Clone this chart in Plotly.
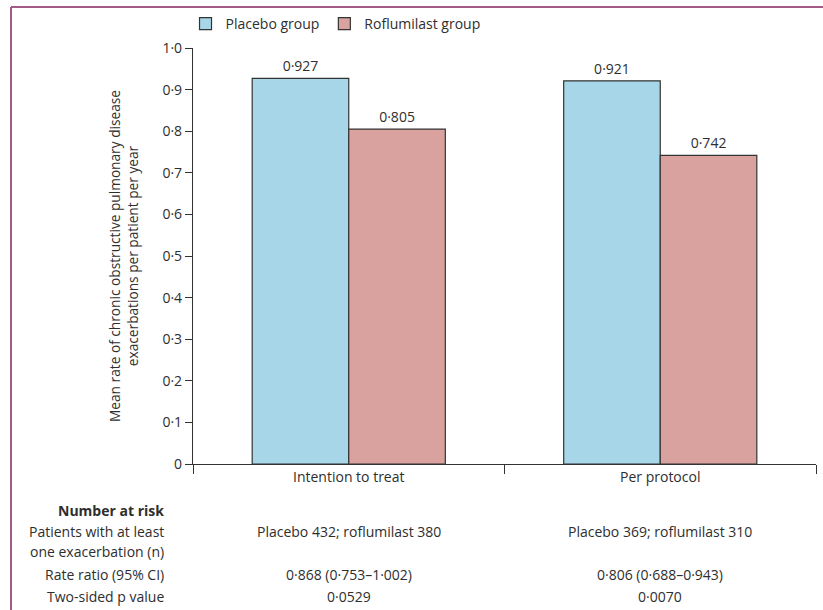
import plotly.graph_objects as go

# data
analyses = ["Intention to treat", "Per protocol"]
placebo_rate = [0.927, 0.921]
roflumilast_rate = [0.805, 0.742]

placebo_n = [432, 369]
roflumilast_n = [380, 310]
rate_ratio = [0.868, 0.806]
ci_low = [0.753, 0.688]
ci_high = [1.002, 0.943]
p_value = ["0·0529", "0·0070"]

y_ticks = [0, 0.1, 0.2, 0.3, 0.4, 0.5, 0.6, 0.7, 0.8, 0.9, 1.0]
y_ticktext = ["0", "0·1", "0·2", "0·3", "0·4", "0·5", "0·6", "0·7", "0·8", "0·9", "1·0"]


def lancet(v, nd=3):
    # Lancet style mid-dot decimals
    return f"{v:.{nd}f}".replace(".", "·")


FONT = "Open Sans, Roboto, sans-serif"
TXT = "#2e2e2e"
FS = 14

fig = go.Figure()
fig.add_trace(go.Bar(x=analyses, y=placebo_rate, name="Placebo group",
                     marker=dict(color="#a7d6e8", line=dict(color="#333333", width=1.2)),
                     text=[lancet(v) for v in placebo_rate], textposition="outside",
                     textfont=dict(size=FS, color=TXT), cliponaxis=False))
fig.add_trace(go.Bar(x=analyses, y=roflumilast_rate, name="Roflumilast group",
                     marker=dict(color="#daa29f", line=dict(color="#333333", width=1.2)),
                     text=[lancet(v) for v in roflumilast_rate], textposition="outside",
                     textfont=dict(size=FS, color=TXT), cliponaxis=False))

W, H = 823, 610
L, R, T, B = 193, 7, 48, 146
ph = H - T - B
pw = W - L - R


def py(pix):
    # pixel row -> paper y
    return (H - B - pix) / ph


def px(pix):
    return (pix - L) / pw


fig.update_layout(
    width=W, height=H,
    margin=dict(l=L, r=R, t=T, b=B, autoexpand=False),
    paper_bgcolor="white", plot_bgcolor="white",
    font=dict(family=FONT, size=FS, color=TXT),
    barmode="group", bargap=0.38, bargroupgap=0,
    showlegend=True,
    legend=dict(orientation="h", x=-0.012, y=py(40), xanchor="left", yanchor="bottom",
                font=dict(size=FS), traceorder="normal"),
)

fig.update_xaxes(showline=True, linecolor="#333333", linewidth=1.2, automargin=False,
                 ticks="outside", tickson="boundaries", ticklen=9, tickcolor="#333333",
                 tickfont=dict(size=FS), showgrid=False)
fig.update_yaxes(range=[0, 1.0], showline=True, linecolor="#333333", linewidth=1.2,
                 automargin=False,
                 ticks="outside", ticklen=7, tickcolor="#333333",
                 tickvals=y_ticks, ticktext=y_ticktext, tickfont=dict(size=FS),
                 showgrid=False, zeroline=False,
                 title=dict(text="Mean rate of chronic obstructive pulmonary disease<br>"
                                 "exacerbations per patient per year",
                            font=dict(size=FS - 0.3), standoff=20))

# number at risk table
rows_left = [("<b>Number at risk</b>", 510), ("Patients with at least", 531),
             ("one exacerbation (n)", 551), ("Rate ratio (95% CI)", 574),
             ("Two-sided p value", 596)]
for label, pix in rows_left:
    fig.add_annotation(text=label, xref="paper", x=px(166), xanchor="right",
                       yref="paper", y=py(pix), yanchor="middle", showarrow=False,
                       font=dict(size=FS, color=TXT))

for i, a in enumerate(analyses):
    cells = [(f"Placebo {placebo_n[i]}; roflumilast {roflumilast_n[i]}", 531),
             (f"{lancet(rate_ratio[i])} ({lancet(ci_low[i])}–{lancet(ci_high[i])})", 574),
             (p_value[i], 596)]
    for t, pix in cells:
        fig.add_annotation(text=t, xref="x", x=a, xanchor="center",
                           yref="paper", y=py(pix), yanchor="middle", showarrow=False,
                           font=dict(size=FS, color=TXT))

# page frame (top and left rule)
fig.add_shape(type="line", xref="paper", yref="paper", x0=px(11), x1=px(W),
              y0=py(7), y1=py(7), line=dict(color="#a35a85", width=2), layer="below")
fig.add_shape(type="line", xref="paper", yref="paper", x0=px(11), x1=px(11),
              y0=py(7), y1=py(H), line=dict(color="#a35a85", width=2), layer="below")

fig.write_html("out.html", config={"displayModeBar": False},
               post_script="document.body.style.margin='0';")
